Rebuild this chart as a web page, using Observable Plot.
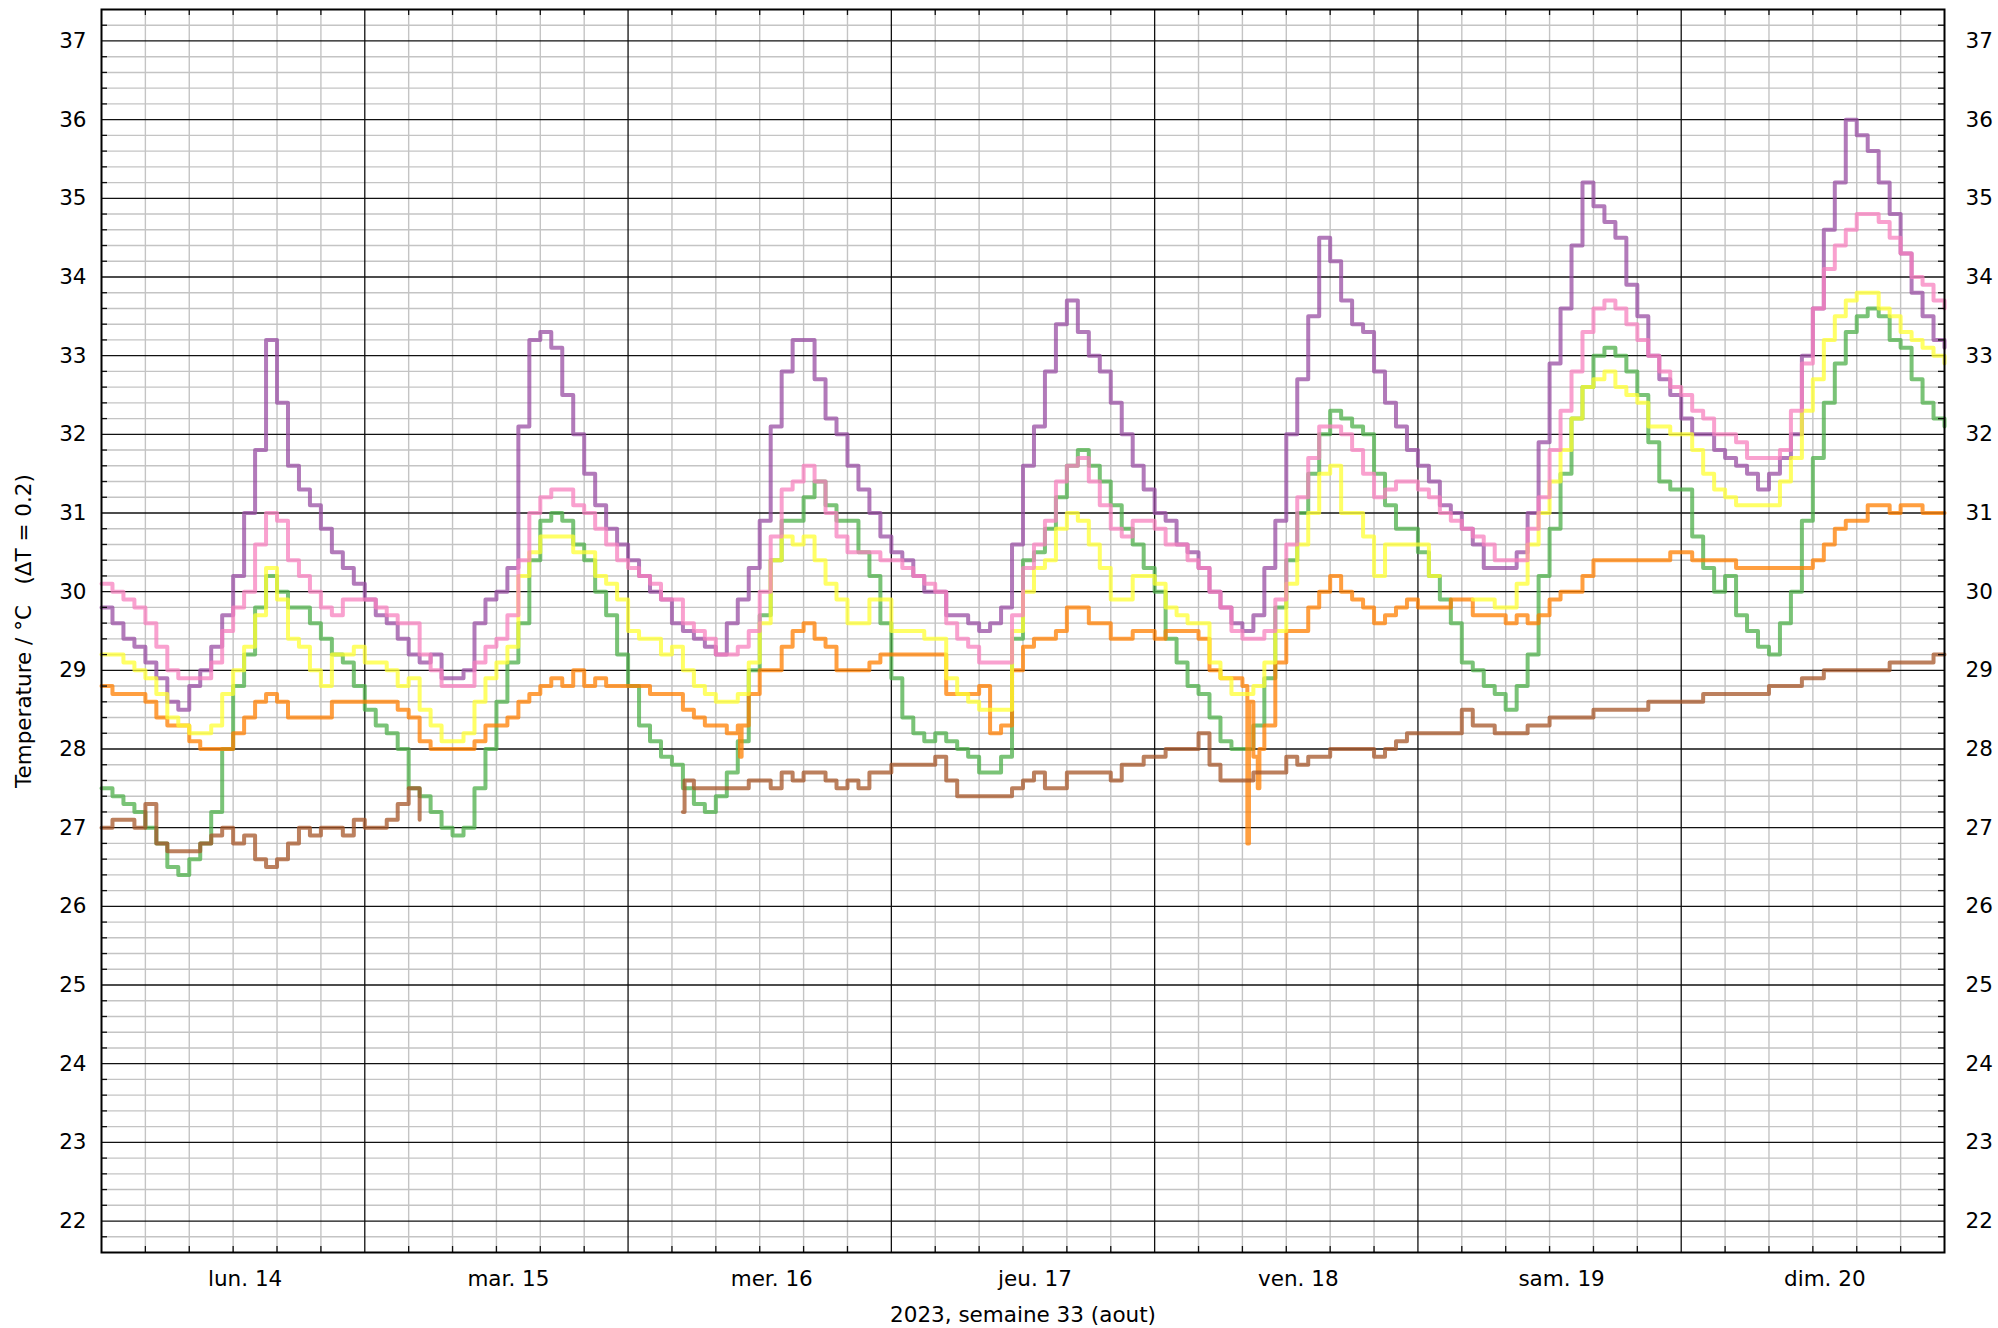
<!DOCTYPE html>
<html><head><meta charset="utf-8">
<script src="https://cdn.jsdelivr.net/npm/d3@7"></script>
<script src="https://cdn.jsdelivr.net/npm/@observablehq/plot@0.6"></script>
<style>html,body{margin:0;padding:0;background:#fff;}svg{display:block}</style>
</head><body><div id="chart"></div>
<script>
// ---- data: hourly readings from Mon 14 Aug 2023 00:00 to Mon 21 00:00 (169 values) ----
const dayLabels = ["lun. 14","mar. 15","mer. 16","jeu. 17","ven. 18","sam. 19","dim. 20"];
const xLabel = "2023, semaine 33 (aout)";
const yLabel = "Temperature / °C\u00a0\u00a0\u00a0(ΔT = 0.2)";
const startUTC = Date.UTC(2023, 7, 14);

const purple = [
29.8,29.6,29.4,29.3,29.1,28.9,28.6,28.5,28.8,29.0,29.3,29.7,30.2,31.0,31.8,33.2,32.4,31.6,31.3,31.1,30.8,30.5,30.3,30.1,
29.9,29.7,29.6,29.4,29.2,29.1,29.2,28.9,28.9,29.0,29.6,29.9,30.0,30.3,32.1,33.2,33.3,33.1,32.5,32.0,31.5,31.1,30.8,30.6,
30.4,30.2,30.0,29.9,29.6,29.5,29.4,29.3,29.2,29.6,29.9,30.3,30.9,32.1,32.8,33.2,33.2,32.7,32.2,32.0,31.6,31.3,31.0,30.7,
30.5,30.4,30.2,30.0,30.0,29.7,29.7,29.6,29.5,29.6,29.8,30.6,31.6,32.1,32.8,33.4,33.7,33.3,33.0,32.8,32.4,32.0,31.6,31.3,
31.0,30.9,30.6,30.5,30.3,30.0,29.8,29.6,29.5,29.7,30.3,30.9,32.0,32.7,33.5,34.5,34.2,33.7,33.4,33.3,32.8,32.4,32.1,31.8,
31.6,31.4,31.1,31.0,30.8,30.6,30.3,30.3,30.3,30.5,31.0,31.9,32.9,33.6,34.4,35.2,34.9,34.7,34.5,33.9,33.5,33.0,32.7,32.5,
32.2,32.0,32.0,31.8,31.7,31.6,31.5,31.3,31.5,31.7,32.0,33.0,33.6,34.6,35.2,36.0,35.8,35.6,35.2,34.8,34.3,33.8,33.5,33.2,
33.1];

const pink = [
30.1,30.0,29.9,29.8,29.6,29.3,29.0,28.9,28.9,28.9,29.1,29.5,29.8,30.0,30.6,31.0,30.9,30.4,30.2,30.0,29.8,29.7,29.9,29.9,
29.9,29.8,29.7,29.6,29.6,29.2,29.0,28.8,28.8,28.8,29.1,29.3,29.4,29.7,30.4,31.0,31.2,31.3,31.3,31.1,31.0,30.8,30.6,30.4,
30.3,30.2,30.1,29.9,29.9,29.6,29.5,29.4,29.2,29.2,29.3,29.5,30.0,30.7,31.3,31.4,31.6,31.4,31.0,30.7,30.5,30.5,30.5,30.4,
30.4,30.3,30.2,30.1,30.0,29.6,29.4,29.3,29.1,29.1,29.1,29.7,30.3,30.6,30.9,31.4,31.6,31.7,31.4,31.1,30.8,30.7,30.9,30.9,
30.8,30.6,30.6,30.4,30.3,30.0,29.8,29.5,29.4,29.4,29.5,29.9,30.6,31.2,31.7,32.1,32.1,32.0,31.8,31.5,31.2,31.3,31.4,31.4,
31.3,31.2,31.0,30.9,30.8,30.7,30.6,30.4,30.4,30.4,30.8,31.2,31.8,32.3,32.8,33.3,33.6,33.7,33.6,33.4,33.2,33.0,32.8,32.6,
32.5,32.3,32.2,32.0,32.0,31.9,31.7,31.7,31.7,31.8,32.3,32.9,33.6,34.1,34.4,34.6,34.8,34.8,34.7,34.5,34.3,34.0,33.9,33.7,
33.6];

const yellow = [
29.2,29.2,29.1,29.0,28.9,28.7,28.4,28.3,28.2,28.2,28.3,28.7,29.0,29.3,29.7,30.3,29.9,29.4,29.3,29.0,28.8,29.2,29.2,29.3,
29.1,29.1,29.0,28.8,28.9,28.5,28.3,28.1,28.1,28.2,28.6,28.9,29.1,29.3,30.2,30.5,30.7,30.7,30.7,30.5,30.5,30.2,30.1,29.9,
29.5,29.4,29.4,29.2,29.3,29.0,28.8,28.7,28.6,28.6,28.7,29.1,29.6,30.4,30.7,30.6,30.7,30.4,30.1,29.9,29.6,29.6,29.9,29.9,
29.5,29.5,29.5,29.4,29.4,28.9,28.7,28.6,28.5,28.5,28.5,29.5,30.0,30.3,30.4,30.8,31.0,30.9,30.6,30.3,29.9,29.9,30.2,30.2,
30.1,29.8,29.7,29.6,29.6,29.1,28.9,28.7,28.7,28.8,29.1,29.5,30.1,30.6,31.0,31.5,31.6,31.0,31.0,30.7,30.2,30.6,30.6,30.6,
30.6,30.2,30.2,NaN,NaN,29.9,29.9,29.8,29.8,30.1,30.6,31.0,31.4,31.8,32.2,32.6,32.7,32.8,32.6,32.5,32.4,32.1,32.1,32.0,
32.0,31.8,31.5,31.3,31.2,31.1,31.1,31.1,31.1,31.4,31.7,32.3,32.7,33.2,33.5,33.7,33.8,33.8,33.6,33.5,33.3,33.2,33.1,33.0,
32.9];

const green = [
27.5,27.4,27.3,27.2,27.0,26.8,26.5,26.4,26.6,26.8,27.2,28.0,28.8,29.2,29.8,30.2,30.0,29.8,29.8,29.6,29.4,29.2,29.1,28.8,
28.5,28.3,28.2,28.0,27.5,27.4,27.2,27.0,26.9,27.0,27.5,28.0,28.6,29.1,29.6,30.4,30.9,31.0,30.9,30.6,30.4,30.0,29.7,29.2,
28.8,28.3,28.1,27.9,27.8,27.5,27.3,27.2,27.4,27.7,28.1,29.0,29.7,30.4,30.9,30.9,31.2,31.4,31.1,30.9,30.9,30.5,30.2,29.6,
28.9,28.4,28.2,28.1,28.2,28.1,28.0,27.9,27.7,27.7,27.9,29.4,30.4,30.5,30.8,31.2,31.6,31.8,31.6,31.4,31.1,30.8,30.6,30.3,
30.0,29.4,29.1,28.8,28.7,28.4,28.1,28.0,28.0,28.3,28.9,29.8,30.4,31.0,31.5,32.0,32.3,32.2,32.1,32.0,31.5,31.1,30.8,30.8,
30.5,30.2,29.9,29.6,29.1,29.0,28.8,28.7,28.5,28.8,29.2,30.2,30.8,31.5,32.2,32.6,33.0,33.1,33.0,32.8,32.5,31.9,31.4,31.3,
31.3,30.7,30.3,30.0,30.2,29.7,29.5,29.3,29.2,29.6,30.0,30.9,31.7,32.4,32.9,33.3,33.5,33.6,33.5,33.2,33.1,32.7,32.4,32.2,
32.1];

const orange = [
28.8,28.7,28.7,28.7,28.6,28.4,28.3,28.3,28.1,28.0,28.0,28.0,28.2,28.4,28.6,28.7,28.6,28.4,28.4,28.4,28.4,28.6,28.6,28.6,
28.6,28.6,28.6,28.5,28.4,28.1,28.0,28.0,28.0,28.0,28.1,28.3,28.3,28.4,28.6,28.7,28.8,28.9,28.8,29.0,28.8,28.9,28.8,28.8,
28.8,28.8,28.7,28.7,28.7,28.5,28.4,28.3,28.3,28.2,28.3,28.7,29.0,29.0,29.3,29.5,29.6,29.4,29.3,29.0,29.0,29.0,29.1,29.2,
29.2,29.2,29.2,29.2,29.2,28.7,28.7,28.7,28.8,28.2,28.3,29.0,29.3,29.4,29.4,29.5,29.8,29.8,29.6,29.6,29.4,29.4,29.5,29.5,
29.4,29.5,29.5,29.5,29.4,29.0,28.9,28.9,28.8,27.9,28.3,29.1,29.5,29.5,29.8,30.0,30.2,30.0,29.9,29.8,29.6,29.7,29.8,29.9,
29.8,29.8,29.8,29.9,29.9,29.7,29.7,29.7,29.6,29.7,29.6,29.7,29.9,30.0,30.0,30.2,30.4,30.4,30.4,30.4,30.4,30.4,30.4,30.5,
30.5,30.4,30.4,30.4,30.4,30.3,30.3,30.3,30.3,30.3,30.3,30.3,30.4,30.6,30.8,30.9,30.9,31.1,31.1,31.0,31.1,31.1,31.0,31.0,
31.0];

const brown = [
27.0,27.1,27.1,27.0,27.3,26.8,26.7,26.7,26.7,26.8,26.9,27.0,26.8,26.9,26.6,26.5,26.6,26.8,27.0,26.9,27.0,27.0,26.9,27.1,
27.0,27.0,27.1,27.3,27.5,27.1,NaN,NaN,NaN,NaN,NaN,NaN,NaN,NaN,NaN,NaN,NaN,NaN,NaN,NaN,NaN,NaN,NaN,NaN,
NaN,NaN,NaN,NaN,NaN,27.2,27.5,27.5,27.5,27.5,27.5,27.6,27.6,27.5,27.7,27.6,27.7,27.7,27.6,27.5,27.6,27.5,27.7,27.7,
27.8,27.8,27.8,27.8,27.9,27.6,27.4,27.4,27.4,27.4,27.4,27.5,27.6,27.7,27.5,27.5,27.7,27.7,27.7,27.7,27.6,27.8,27.8,27.9,
27.9,28.0,28.0,28.0,28.2,27.8,27.6,27.6,27.6,27.7,27.7,27.7,27.9,27.8,27.9,27.9,28.0,28.0,28.0,28.0,27.9,28.0,28.1,28.2,
28.2,28.2,28.2,28.2,28.5,28.3,28.3,28.2,28.2,28.2,28.3,28.3,28.4,28.4,28.4,28.4,28.5,28.5,28.5,28.5,28.5,28.6,28.6,28.6,
28.6,28.6,28.7,28.7,28.7,28.7,28.7,28.7,28.8,28.8,28.8,28.9,28.9,29.0,29.0,29.0,29.0,29.0,29.0,29.1,29.1,29.1,29.1,29.2,
29.2];

// short extra readings between the hours: [hours since start, value]
const orangeExtra = [[58.2, 27.9], [58.35, 28.3], [104.45, 26.8], [104.6, 28.6], [105.4, 27.5], [105.55, 28.0]];
const brownExtra = [[53.15, 27.6]];

// ---- build ----
const toDate = h => new Date(startUTC + h * 3600e3);
function rows(values, extra = []) {
  const r = values.map((v, i) => ({t: toDate(i), h: i, v}));
  extra.forEach(([h, v]) => r.push({t: toDate(h), h, v}));
  return r.sort((a, b) => a.h - b.h);
}
const series = [
  {name: "green", color: "#4daf4a", data: rows(green)},
  {name: "purple", color: "#984ea3", data: rows(purple)},
  {name: "orange", color: "#ff7f00", data: rows(orange, orangeExtra)},
  {name: "yellow", color: "#ffff33", data: rows(yellow)},
  {name: "brown", color: "#a65628", data: rows(brown, brownExtra)},
  {name: "pink", color: "#f781bf", data: rows(pink)}
];

const yDomain = [21.6, 37.4];
const majorY = d3.range(22, 38);
const minorY = d3.range(21.8, 37.3, 0.2).map(v => Math.round(v * 10) / 10).filter(v => Math.abs(v - Math.round(v)) > 0.01);
const midnights = d3.range(24, 168, 24).map(toDate);
const minorX = d3.range(4, 168, 4).filter(h => h % 24 !== 0).map(toDate);
const noons = d3.range(12, 168, 24).map(toDate);

const W = 1998, H = 1328, mL = 101, mR = 54, mT = 9, mB = 76;
const plotW = W - mL - mR, plotH = H - mT - mB;
const tickLen = 6;
const FS = 21.5;

const chart = Plot.plot({
  width: W, height: H,
  marginLeft: mL, marginRight: mR, marginTop: mT, marginBottom: mB,
  style: {fontFamily: "DejaVu Sans", fontSize: FS + "px", color: "#000", background: "#fff"},
  x: {type: "utc", domain: [toDate(0), toDate(168)]},
  y: {domain: yDomain},
  marks: [
    Plot.ruleY(minorY, {stroke: "#c4c4c4", strokeWidth: 1.4}),
    Plot.ruleX(minorX, {stroke: "#c4c4c4", strokeWidth: 1.4}),
    Plot.ruleY(majorY, {stroke: "#111", strokeWidth: 1.3}),
    Plot.ruleX(midnights, {stroke: "#111", strokeWidth: 1.3}),
    ...series.map(s => Plot.line(s.data, {x: "t", y: "v", curve: "step-after", stroke: s.color, strokeOpacity: 0.75, strokeWidth: 4})),
    Plot.tickY(minorY, {y: d => d, stroke: "#111", strokeWidth: 1.3, insetRight: plotW - tickLen}),
    Plot.tickY(minorY, {y: d => d, stroke: "#111", strokeWidth: 1.3, insetLeft: plotW - tickLen}),
    Plot.tickX(minorX, {x: d => d, stroke: "#111", strokeWidth: 1.3, insetBottom: plotH - tickLen}),
    Plot.tickX(minorX, {x: d => d, stroke: "#111", strokeWidth: 1.3, insetTop: plotH - tickLen}),
    Plot.frame({stroke: "#000", strokeWidth: 2}),
    Plot.axisY({anchor: "left", ticks: majorY, tickSize: 0, tickPadding: 15, label: null, fontSize: FS}),
    Plot.axisY({anchor: "right", ticks: majorY, tickSize: 0, tickPadding: 21, label: null, fontSize: FS}),
    Plot.axisX({anchor: "bottom", ticks: noons, tickSize: 0, tickPadding: 18, label: null, fontSize: FS, dx: 12,
      tickFormat: d => dayLabels[noons.findIndex(n => +n === +d)]}),
    Plot.text([xLabel], {frameAnchor: "bottom", dy: 69, fontSize: FS, fill: "#000", textAnchor: "middle"}),
    Plot.text([yLabel], {frameAnchor: "left", dx: -77, rotate: -90, fontSize: FS, fill: "#000", textAnchor: "middle"})
  ]
});
document.getElementById("chart").appendChild(chart);
</script>
</body></html>
